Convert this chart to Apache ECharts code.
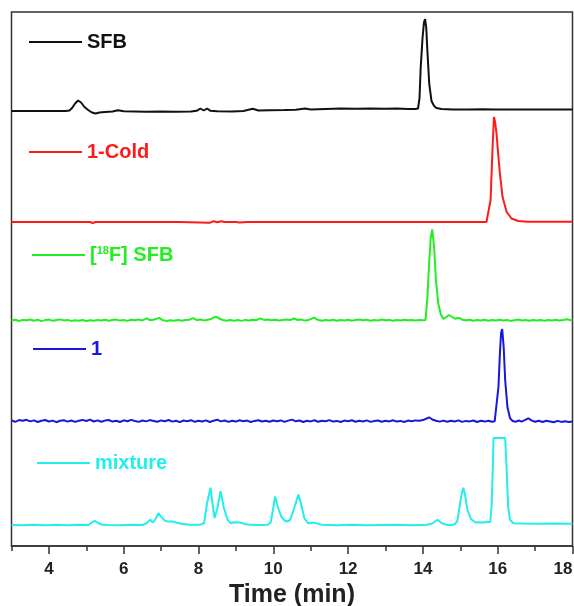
<!DOCTYPE html>
<html>
<head>
<meta charset="utf-8">
<script src="https://cdn.jsdelivr.net/npm/echarts@6/dist/echarts.min.js"></script>
<style>
html,body{margin:0;padding:0;background:#fff;}
#chart{width:574px;height:606px;}
</style>
</head>
<body>
<div id="chart"></div>
<script>
// ---- data: [time (min), signal above panel baseline] ----
const seriesNames = ['SFB', '1-Cold', '[18F] SFB', '1', 'mixture'];
const xMin = 3, xMax = 18;
const axisTitle = 'Time (min)';

const sfb = [[3.0,-1],[3.5,-1],[4.0,-1],[4.45,-1],[4.55,-0.5],[4.62,2],[4.7,6.5],[4.78,9.5],[4.86,7.5],[4.95,3],[5.05,0],[5.15,-2.5],[5.25,-3.5],[5.35,-2.5],[5.5,-2],[5.7,-1.5],[5.85,-0.2],[6.0,-1.2],[6.3,-1.5],[6.6,-1.8],[7.0,-1.5],[7.4,-1.8],[7.8,-1.5],[7.95,-0.8],[8.05,1.5],[8.14,-0.5],[8.23,1.5],[8.32,-0.8],[8.5,-1.2],[8.9,-1.5],[9.2,-1],[9.45,1.2],[9.6,-0.5],[9.9,-0.3],[10.3,0],[10.6,0.3],[10.85,1.5],[11.0,0.5],[11.4,1],[11.8,1.5],[12.2,1.3],[12.6,1.5],[13.0,1.2],[13.3,1.5],[13.6,1],[13.8,1],[13.87,1.5],[13.91,12],[13.94,42],[13.99,72],[14.03,88],[14.06,91],[14.09,82],[14.12,59],[14.17,26],[14.23,9],[14.3,4],[14.36,2],[14.5,1],[14.8,0.5],[15.2,0.5],[15.6,0.8],[15.9,0.5],[16.2,0.5],[16.6,0.5],[17.0,0.5],[17.5,0.5],[18.0,0.5]];

const cold = [[3,0],[5.1,0],[5.17,-1],[5.25,0],[7.5,0],[7.55,-0.8],[8.3,-0.8],[8.4,0.8],[8.5,-0.3],[8.62,0.8],[8.7,0],[9.0,0],[9.05,0.8],[9.1,-0.5],[9.3,0],[12.0,0],[12.05,-0.6],[12.1,0],[14.0,0],[14.05,-0.6],[14.1,0],[15.7,0],[15.75,2],[15.81,22],[15.86,72],[15.9,105],[15.93,100],[15.97,88],[16.02,65],[16.06,48],[16.13,25],[16.24,10],[16.37,3.5],[16.55,1],[16.8,0.3],[18,0.3]];

const f18sfb = [[3.0,0],[3.1,0.8],[3.2,-0.5],[3.3,0.6],[3.4,0.2],[3.5,1.0],[3.6,-0.3],[3.7,0.7],[3.8,-0.6],[3.9,0.4],[4.0,0.9],[4.1,-0.2],[4.2,0.5],[4.3,1.1],[4.4,0.1],[4.5,0.6],[4.6,-0.4],[4.7,0.3],[4.8,-0.2],[4.9,0.5],[5.0,-0.5],[5.1,0.2],[5.2,-0.3],[5.3,0.6],[5.4,0.0],[5.5,0.8],[5.6,-0.2],[5.7,0.4],[5.8,0.9],[5.9,-0.1],[6.0,0.5],[6.1,-0.4],[6.2,0.7],[6.3,0.2],[6.4,0.9],[6.5,0.1],[6.62,2.2],[6.7,0.3],[6.8,0.8],[6.95,2.6],[7.05,0.2],[7.15,-0.4],[7.25,0.3],[7.35,-0.2],[7.45,0.5],[7.55,-0.3],[7.65,0.4],[7.75,0.8],[7.87,2.4],[7.95,0.3],[8.05,1.0],[8.15,0.1],[8.25,0.8],[8.35,1.8],[8.46,3.8],[8.55,2.0],[8.65,0.5],[8.75,-0.3],[8.85,0.4],[8.95,-0.2],[9.05,0.5],[9.15,-0.4],[9.25,0.6],[9.35,0.1],[9.45,0.8],[9.55,0.3],[9.65,2.2],[9.75,0.6],[9.85,1.0],[9.95,0.2],[10.05,0.7],[10.15,-0.1],[10.25,0.6],[10.35,0.9],[10.45,0.4],[10.55,2.0],[10.65,0.5],[10.75,0.9],[10.85,-0.1],[10.95,0.6],[11.09,2.8],[11.2,0.4],[11.3,-0.3],[11.4,0.5],[11.5,0.1],[11.6,0.8],[11.7,-0.2],[11.8,0.5],[11.9,0.0],[12.0,0.7],[12.1,-0.3],[12.2,0.6],[12.3,1.0],[12.4,0.2],[12.5,0.7],[12.6,-0.2],[12.7,0.5],[12.8,0.1],[12.9,0.9],[13.0,0.2],[13.1,0.6],[13.2,-0.3],[13.3,0.4],[13.4,0.0],[13.5,0.8],[13.6,0.2],[13.7,0.6],[13.8,-0.1],[13.9,0.5],[14.0,0.3],[14.07,0.5],[14.12,23],[14.17,60],[14.21,83],[14.25,91],[14.30,73],[14.35,40],[14.41,17],[14.48,6],[14.55,1.5],[14.62,3.5],[14.70,5.5],[14.78,3.5],[14.86,1.8],[14.93,2.5],[14.99,2.3],[15.05,0.8],[15.15,0.2],[15.25,0.8],[15.35,-0.2],[15.45,0.5],[15.55,0.0],[15.65,0.7],[15.75,-0.3],[15.85,0.4],[15.95,0.1],[16.05,0.8],[16.15,0.0],[16.25,0.5],[16.35,-0.4],[16.45,0.3],[16.55,0.9],[16.65,0.1],[16.75,0.5],[16.85,-0.3],[16.95,0.4],[17.05,0.0],[17.15,0.6],[17.25,-0.2],[17.35,0.4],[17.45,0.1],[17.55,0.7],[17.65,0.0],[17.75,0.5],[17.85,1.2],[17.95,0.3],[18.0,0.2]];

const cmpd1 = [[3.0,0.5],[3.1,-0.8],[3.2,0.9],[3.3,0.2],[3.4,1.2],[3.5,-0.4],[3.6,0.6],[3.7,-1.0],[3.8,0.3],[3.9,1.0],[4.0,-0.5],[4.1,0.4],[4.2,-1.2],[4.3,0.2],[4.4,0.8],[4.5,-0.6],[4.6,0.5],[4.7,-0.9],[4.8,0.3],[4.9,1.1],[5.0,0.0],[5.1,1.4],[5.2,-0.5],[5.3,0.6],[5.4,-0.8],[5.5,0.4],[5.6,1.0],[5.7,-0.6],[5.8,0.2],[5.9,-1.0],[6.0,0.7],[6.1,-0.3],[6.2,1.1],[6.3,0.0],[6.4,-0.9],[6.5,0.5],[6.6,-0.4],[6.7,0.9],[6.8,0.1],[6.9,-0.7],[7.0,0.6],[7.1,-0.2],[7.2,1.0],[7.3,-0.6],[7.4,0.3],[7.5,-1.1],[7.6,0.5],[7.7,-0.2],[7.8,0.8],[7.9,-0.8],[8.0,0.2],[8.1,-0.5],[8.2,0.6],[8.3,-1.0],[8.4,0.3],[8.5,1.3],[8.6,-0.4],[8.7,0.5],[8.8,-0.9],[8.9,0.2],[9.0,-0.6],[9.1,0.7],[9.2,-0.3],[9.3,0.4],[9.4,-1.0],[9.5,0.1],[9.6,0.8],[9.7,-0.5],[9.8,0.3],[9.9,-0.8],[10.0,0.5],[10.1,-0.2],[10.2,0.6],[10.3,-0.9],[10.4,0.4],[10.5,1.4],[10.6,-0.3],[10.7,0.5],[10.8,-1.0],[10.9,0.2],[11.0,-0.4],[11.1,0.8],[11.2,-0.7],[11.3,0.3],[11.4,-0.2],[11.5,0.9],[11.6,-0.6],[11.7,0.1],[11.8,-1.0],[11.9,0.4],[12.0,-0.3],[12.1,0.7],[12.2,-0.8],[12.3,0.2],[12.4,-0.5],[12.5,0.6],[12.6,-0.9],[12.7,0.0],[12.8,0.5],[12.9,-0.7],[13.0,0.3],[13.1,-0.4],[13.2,0.8],[13.3,-0.6],[13.4,0.1],[13.5,-1.0],[13.6,0.4],[13.7,-0.3],[13.8,0.6],[13.9,0.2],[14.0,0.9],[14.1,2.5],[14.17,3.7],[14.25,1.5],[14.35,0.3],[14.45,-0.6],[14.55,0.4],[14.65,-0.8],[14.75,0.2],[14.85,-0.5],[14.95,0.6],[15.05,-0.9],[15.15,0.1],[15.25,-0.4],[15.35,0.5],[15.45,-1.0],[15.55,0.2],[15.65,-0.6],[15.75,0.3],[15.85,-0.8],[15.92,-0.2],[15.97,0.5],[16.02,34],[16.06,68],[16.09,88],[16.12,92],[16.16,74],[16.20,41],[16.26,14],[16.33,2.7],[16.40,0.0],[16.48,-0.8],[16.56,0.5],[16.64,-0.6],[16.72,0.8],[16.82,2.7],[16.9,0.6],[17.0,-0.8],[17.1,0.3],[17.2,-1.0],[17.3,0.2],[17.4,-0.5],[17.5,-1.2],[17.6,0.1],[17.7,-0.9],[17.8,-0.3],[17.9,-1.0],[18.0,-0.4]];

const mixture = [[3,0],[3.3,-0.3],[3.6,0.3],[3.9,-0.2],[4.2,0.2],[4.5,-0.3],[4.8,0.2],[5.05,0],[5.15,2.5],[5.22,4.2],[5.3,2.5],[5.4,0.5],[5.6,0],[5.9,-0.3],[6.2,0.2],[6.5,0],[6.6,1.5],[6.71,5.3],[6.78,2.5],[6.85,6],[6.93,11.8],[7.02,7.5],[7.1,4.4],[7.2,3.4],[7.3,3.6],[7.4,2.5],[7.58,1],[7.8,0.2],[8.05,0.3],[8.15,2],[8.23,21.8],[8.32,37.4],[8.38,20],[8.43,7],[8.5,16],[8.59,33.7],[8.68,17],[8.78,5],[8.87,1.8],[8.95,2.7],[9.1,2.5],[9.3,0.5],[9.6,0],[9.85,0.3],[9.93,2.5],[9.99,15],[10.05,28.5],[10.13,17],[10.22,8],[10.3,4.5],[10.37,3.5],[10.45,5],[10.57,18],[10.67,30.5],[10.75,20],[10.83,6.7],[10.94,1.7],[11.09,2.4],[11.3,0.3],[11.7,-0.2],[12.1,0.2],[12.5,-0.3],[12.9,0],[13.3,0.3],[13.7,-0.2],[14.1,0.2],[14.25,1.5],[14.39,5.2],[14.5,2],[14.6,0.5],[14.72,-0.3],[14.85,0.8],[14.92,4],[14.98,18],[15.03,30],[15.08,37.3],[15.13,30],[15.19,15],[15.29,5.7],[15.41,2.5],[15.5,2.8],[15.6,2.5],[15.72,3],[15.8,3],[15.84,20],[15.87,60],[15.89,87],[16.2,87],[16.24,55],[16.28,18],[16.33,5],[16.42,1.7],[16.7,1.5],[17.0,1.3],[17.5,1.5],[18,1.3]];

const traces = [sfb, cold, f18sfb, cmpd1, mixture];

// ---- styling / layout ----
const colors = ['#111111', '#ff1a1a', '#22ee22', '#1818d8', '#22eeee'];
const baselines = [110, 222, 320.5, 421, 525];     // px of each panel baseline
const legendPos = [[29, 42], [29, 152], [32, 255], [33, 349], [37, 463]]; // [left, centerY]
const FONT = '"Liberation Sans", Arial, sans-serif';
const L = 11.5, R = 1.5;

const grids = [{left: L, right: R, top: 12, bottom: 60, show: true, borderColor: '#333', borderWidth: 1.5, outerBoundsMode: 'none', containLabel: false}];
const xAxes = [
  {gridIndex: 0, type: 'value', position: 'bottom', min: xMin, max: xMax, interval: 1,
   axisLine: {show: true, lineStyle: {color: '#333', width: 1.5}},
   axisTick: {show: true, length: 5, lineStyle: {color: '#333', width: 1.5}},
   axisLabel: {show: false}, splitLine: {show: false}},
  {gridIndex: 0, type: 'value', position: 'bottom', min: xMin, max: xMax, splitNumber: 8,
   axisLine: {show: false},
   axisTick: {show: true, length: 8, lineStyle: {color: '#333', width: 1.5}},
   axisLabel: {show: true, showMinLabel: false, alignMaxLabel: 'right', margin: 15, fontSize: 17, fontWeight: 'bold', color: '#222', fontFamily: FONT},
   splitLine: {show: false},
   name: axisTitle, nameLocation: 'middle', nameGap: 32,
   nameTextStyle: {fontSize: 25, fontWeight: 'bold', color: '#222', fontFamily: FONT}}
];
const yAxes = [{gridIndex: 0, type: 'value', min: 0, max: 1, show: false}];
const series = [];
const legends = [];

traces.forEach((d, i) => {
  grids.push({left: L, right: R, top: baselines[i] - 110, height: 120, show: false, outerBoundsMode: 'none', containLabel: false});
  xAxes.push({gridIndex: i + 1, type: 'value', min: xMin, max: xMax, show: false});
  yAxes.push({gridIndex: i + 1, type: 'value', min: -10, max: 110, show: false});
  series.push({
    name: seriesNames[i], type: 'line', data: d,
    xAxisIndex: i + 2, yAxisIndex: i + 1,
    symbol: 'none', showSymbol: false, clip: false,
    color: colors[i],
    lineStyle: {color: colors[i], width: 2}
  });
  legends.push({
    data: [seriesNames[i]], left: legendPos[i][0], top: legendPos[i][1] - 10,
    padding: 0, icon: 'rect', itemWidth: 53, itemHeight: 2, selectedMode: false,
    formatter: n => n === '[18F] SFB' ? '[{sup|18}F] SFB' : n,
    textStyle: {color: colors[i], fontSize: 20, fontWeight: 'bold', fontFamily: FONT, lineHeight: 20,
      rich: {sup: {fontSize: 11, fontWeight: 'bold', color: colors[i], fontFamily: FONT, verticalAlign: 'top', lineHeight: 12}}}
  });
});

const chart = echarts.init(document.getElementById('chart'), null, {renderer: 'canvas'});
chart.setOption({
  animation: false,
  backgroundColor: '#fff',
  grid: grids, xAxis: xAxes, yAxis: yAxes,
  legend: legends, series: series
});
</script>
</body>
</html>
